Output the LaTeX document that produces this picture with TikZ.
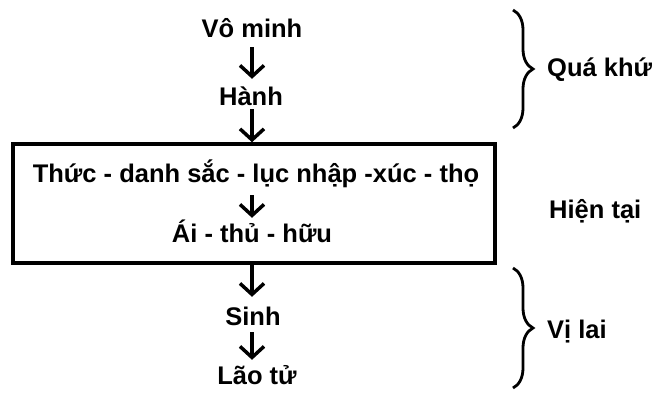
\documentclass[tikz,border=0pt]{standalone}
\usepackage{fontspec}
\setmainfont{Liberation Sans}
\usetikzlibrary{arrows.meta,positioning,decorations.pathreplacing}

\begin{document}
\begin{tikzpicture}[x=1pt, y=-1pt,
  term/.style={font=\bfseries\fontsize{25.5}{28}\selectfont, inner sep=0pt,
    text height=18pt, text depth=4pt, anchor=base},
  box/.style={draw, line width=3.5pt, minimum width=482pt, minimum height=119pt, inner sep=0pt},
  arrow/.style={-{Straight Barb[length=11pt, width=24pt, line width=3.5pt]}, line width=3.5pt},
  span/.style={decorate, decoration={brace, amplitude=20pt}, line width=2.8pt}
]
\useasboundingbox (0,0) rectangle (656,392);
\node[term] (vo) at (252,37) {Vô minh};
\node[term] (hanh) at (251,105) {Hành};
\node[box] (now) at (254,203.5) {};
\node[term] (thuc) at (256,182) {Thức - danh sắc - lục nhập -xúc - thọ};
\node[term] (ai) at (252,242) {Ái - thủ - hữu};
\node[term] (sinh) at (253,325) {Sinh};
\node[term] (lao) at (257,384) {Lão tử};
\draw[arrow, shorten <=6pt, shorten >=8pt] (vo.south -| 252,0) -- (hanh.north -| 252,0);
\draw[arrow] (hanh.south -| 252,0) -- (now.north -| 252,0);
\draw[arrow, shorten <=9pt, shorten >=6pt] (thuc.south -| ai.north) -- (ai.north);
\draw[arrow, shorten >=10pt] (now.south -| ai.north) -- (ai.north |- sinh.north);
\draw[arrow, shorten <=3pt, shorten >=6pt] (ai.north |- sinh.south) -- (ai.north |- lao.north);
% braces on the right
\coordinate (pastTop) at (513,10);
\coordinate (pastEnd) at (513,128);
\draw[span] (pastTop) -- (pastEnd);
\node[term, anchor=base west] (past) at (547,76) {Quá khứ};
\node[term, anchor=base west] (present) at (549,218) {Hiện tại};
\coordinate (futTop) at (513,268);
\coordinate (futEnd) at (513,388);
\draw[span] (futTop) -- (futEnd);
\node[term, anchor=base west] (future) at (547,338) {Vị lai};
\end{tikzpicture}
\end{document}
